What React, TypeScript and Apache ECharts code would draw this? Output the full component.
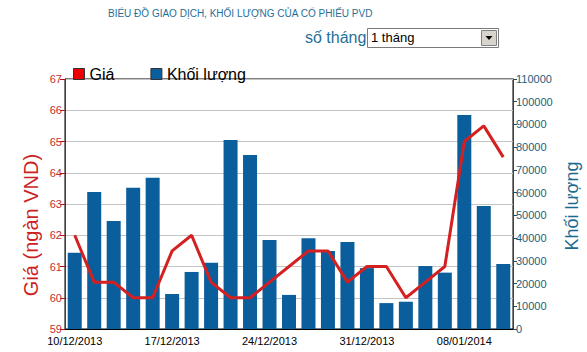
import React, { useEffect, useRef } from "react";
import * as echarts from "echarts";

const dates = [
  "10/12/2013", "11/12/2013", "12/12/2013", "13/12/2013", "16/12/2013",
  "17/12/2013", "18/12/2013", "19/12/2013", "20/12/2013", "23/12/2013",
  "24/12/2013", "25/12/2013", "26/12/2013", "27/12/2013", "30/12/2013",
  "31/12/2013", "02/01/2014", "03/01/2014", "06/01/2014", "07/01/2014",
  "08/01/2014", "09/01/2014", "10/01/2014",
];
const prices = [
  62.0, 60.5, 60.5, 60.0, 60.0, 61.5, 62.0, 60.5, 60.0, 60.0, 60.5, 61.0,
  61.5, 61.5, 60.5, 61.0, 61.0, 60.0, 60.5, 61.0, 65.0, 65.5, 64.5,
];
const volumes = [
  33600, 60300, 47500, 62200, 66600, 15400, 25100, 29200, 83200, 76600,
  39200, 15000, 39900, 34300, 38300, 26800, 11400, 12000, 27700, 24800,
  94200, 54100, 28600,
];

const FONT = "'Liberation Sans', Arial, sans-serif";

export default function App() {
  const ref = useRef<HTMLDivElement>(null);
  useEffect(() => {
    if (!ref.current) return;
    const chart = echarts.init(ref.current, null, { renderer: "svg" });
    chart.setOption({
      animation: false,
      backgroundColor: "#ffffff",
      textStyle: { fontFamily: FONT },
      grid: {
        left: 65,
        right: 74,
        top: 79,
        bottom: 23,
        show: true,
        borderColor: "#000000",
        borderWidth: 1,
        backgroundColor: "transparent",
      },
      legend: {
        left: 68,
        top: 61,
        icon: "rect",
        itemWidth: 11,
        itemHeight: 11,
        itemGap: 36,
        textStyle: { fontSize: 16, color: "#000", fontFamily: FONT },
        data: [
          { name: "Giá", itemStyle: { color: "#ee0000", borderColor: "#333", borderWidth: 1 } },
          { name: "Khối lượng", itemStyle: { color: "#0b5e9c", borderColor: "#333", borderWidth: 1 } },
        ],
      },
      xAxis: {
        type: "category",
        data: dates,
        boundaryGap: true,
        axisLine: { lineStyle: { color: "#000", width: 1 } },
        axisTick: { alignWithLabel: true, interval: 4, length: 5, lineStyle: { color: "#000" } },
        axisLabel: { interval: 4, color: "#000", fontSize: 11, margin: 6, fontFamily: FONT },
      },
      yAxis: [
        {
          type: "value",
          min: 59,
          max: 67,
          interval: 1,
          position: "left",
          axisLine: { show: true, lineStyle: { color: "#b01010", width: 1 } },
          axisTick: { show: true, length: 5, lineStyle: { color: "#b01010" } },
          axisLabel: { color: "#c0302f", fontSize: 11, margin: 3, fontFamily: FONT },
          splitLine: { show: true, lineStyle: { color: "#c4c4c4", width: 1 } },
        },
        {
          type: "value",
          min: 0,
          max: 110000,
          interval: 10000,
          position: "right",
          axisLine: { show: true, lineStyle: { color: "#0d4f6c", width: 1 } },
          axisTick: { show: true, length: 4, lineStyle: { color: "#0d4f6c" } },
          axisLabel: {
            color: "#1b5e7b",
            fontSize: 11,
            margin: 3,
            fontFamily: FONT,
            formatter: (v: number) => String(v),
          },
          splitLine: { show: false },
        },
      ],
      series: [
        {
          name: "Khối lượng",
          type: "bar",
          yAxisIndex: 1,
          data: volumes,
          barWidth: 14,
          itemStyle: { color: "#0b5e9c" },
          z: 2,
        },
        {
          name: "Giá",
          type: "line",
          yAxisIndex: 0,
          data: prices,
          showSymbol: false,
          symbol: "none",
          lineStyle: { color: "#d42020", width: 3 },
          itemStyle: { color: "#ee0000" },
          z: 3,
        },
      ],
      graphic: [
        {
          type: "text",
          left: 108,
          top: 8,
          style: {
            text: "BIỂU ĐỒ GIAO DỊCH, KHỐI LƯỢNG CỦA CỔ PHIẾU PVD",
            fill: "#1f6f99",
            font: `10px ${FONT}`,
          },
        },
        {
          type: "text",
          left: 305,
          top: 29,
          style: { text: "số tháng", fill: "#1f6f99", font: `16px ${FONT}` },
        },
        {
          type: "rect",
          shape: { x: 367.5, y: 28.5, width: 131, height: 19 },
          style: { fill: "#ffffff", stroke: "#7a7a7a", lineWidth: 1 },
        },
        {
          type: "rect",
          shape: { x: 481.5, y: 30.5, width: 15, height: 15 },
          style: { fill: "#d8d4cc", stroke: "#808080", lineWidth: 1 },
        },
        {
          type: "polygon",
          shape: { points: [[485.5, 36], [492.5, 36], [489, 40]] },
          style: { fill: "#000000" },
        },
        {
          type: "text",
          left: 371,
          top: 31,
          style: { text: "1 tháng", fill: "#000", font: `13px ${FONT}` },
        },
        {
          type: "text",
          x: 31,
          y: 225,
          rotation: Math.PI / 2,
          style: {
            text: "Giá (ngàn VND)",
            fill: "#cc1f1f",
            font: `20px ${FONT}`,
            align: "center",
            verticalAlign: "middle",
          },
        },
        {
          type: "text",
          x: 572,
          y: 206,
          rotation: Math.PI / 2,
          style: {
            text: "Khối lượng",
            fill: "#1b6a8e",
            font: `18px ${FONT}`,
            align: "center",
            verticalAlign: "middle",
          },
        },
      ],
    });
    return () => chart.dispose();
  }, []);
  return <div ref={ref} style={{ width: 587, height: 352, position: "absolute", left: 0, top: 0 }} />;
}
